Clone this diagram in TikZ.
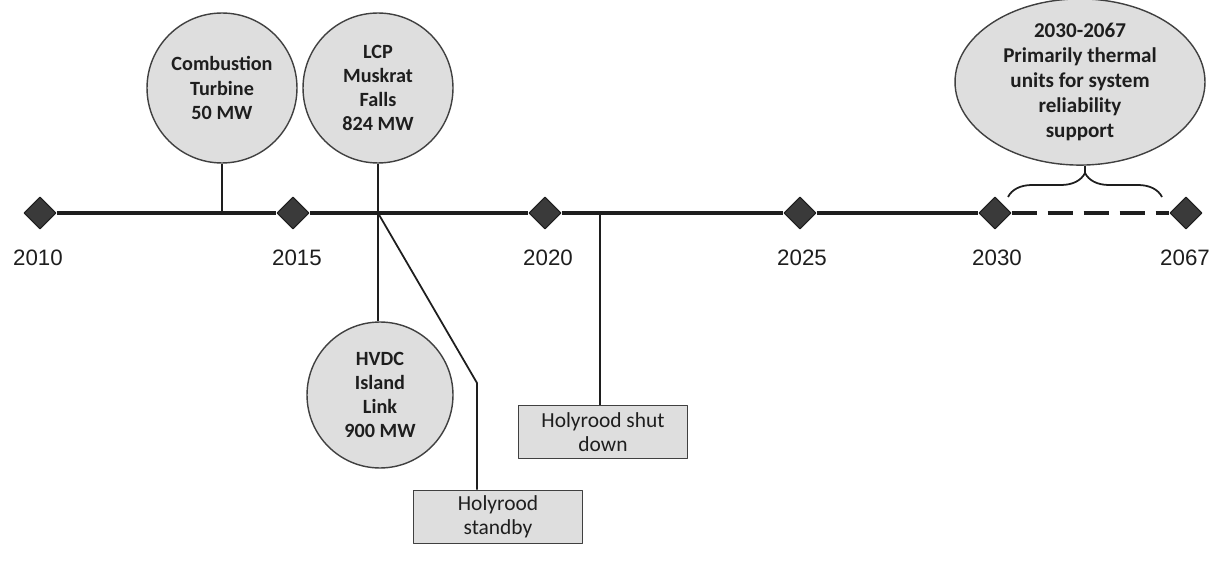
\documentclass[tikz,border=0pt]{standalone}
\usepackage{fontspec}
\setmainfont{Carlito}
\newfontfamily\yearfont{Liberation Sans}
\usepackage{tikz}
\usetikzlibrary{arrows.meta,calc,positioning,shapes.geometric,decorations.pathreplacing}
\definecolor{tlink}{HTML}{1E1E1E}
\definecolor{tlfill}{HTML}{DEDEDE}
\definecolor{tlmark}{HTML}{3A3A3A}

\begin{document}
\begin{tikzpicture}[x=0.02cm,y=-0.02cm,line join=round,
  font=\fontsize{11.5}{13.8}\selectfont,text=tlink,
  bubble/.style={circle,draw=tlink!85,fill=tlfill,line width=.8pt,align=center,inner sep=1pt,minimum size=3cm,font=\fontsize{11.5}{13.8}\selectfont\bfseries},
  note/.style={rectangle,draw=tlink!85,fill=tlfill,line width=.8pt,align=center,inner sep=2pt,minimum width=3.38cm,minimum height=1.07cm,font=\fontsize{12.2}{13.8}\selectfont},
  mile/.style={diamond,aspect=1,draw=tlink,fill=tlmark,line width=.6pt,inner sep=0pt,minimum size=.64cm},
  year/.style={font=\yearfont\fontsize{12.7}{15}\selectfont},
  tl/.style={tlink,line width=2pt},
  conn/.style={tlink,line width=1pt}]
\path[use as bounding box] (0,0) rectangle (1226,567);
\fill[white] (0,0) rectangle (1226,567);
\node[mile] (d2010) at (40,213) {};
\node[mile] (d2015) at (293,213) {};
\node[mile] (d2020) at (545,213) {};
\node[mile] (d2025) at (800,213) {};
\node[mile] (d2030) at (995,213) {};
\node[mile] (d2067) at (1186,213) {};
\node[year] (y2010) at (38,258) {2010};
\node[year] (y2015) at (297,258) {2015};
\node[year] (y2020) at (548,258) {2020};
\node[year] (y2025) at (802,258) {2025};
\node[year] (y2030) at (997,258) {2030};
\node[year] (y2067) at (1185,258) {2067};
\node[bubble] (ct) at (222,88) {Combustion\\Turbine\\50 MW};
\node[bubble] (lcp) at (378,88) {LCP\\Muskrat\\Falls\\824 MW};
\node[bubble,minimum size=2.92cm] (hvdc) at (380,395) {HVDC\\Island\\Link\\900 MW};
\node[note] (stby) at (498,517) {Holyrood\\standby};
\node[note] (shut) at (603,432) {Holyrood shut\\down};
\node[ellipse,draw=tlink!85,fill=tlfill,line width=.8pt,align=center,inner sep=0pt,minimum width=5cm,minimum height=3cm,font=\fontsize{12}{14.2}\selectfont\bfseries] (late) at (1080,82) {2030-2067\\Primarily thermal\\units for system\\reliability\\support};
\coordinate (j14) at (222,213);
\coordinate (j16) at (378,213);
\coordinate (kink) at (477,383);
\coordinate (j21) at (600,213);
\coordinate (bl) at (1008,197);
\coordinate (br) at (1162,197);
\coordinate (btip) at (1085,173);
\draw[tl] (d2010) -- (d2015);
\draw[tl] (d2015) -- (d2020);
\draw[tl] (d2020) -- (d2025);
\draw[tl] (d2025) -- (d2030);
\draw[tl,dash pattern=on .5cm off .22cm] (d2030) -- (d2067);
\draw[conn] (ct.south) -- (j14);
\draw[conn] (lcp.south) -- (j16);
\draw[conn] (j16) -- (j16 |- hvdc.north);
\draw[conn] (j16) -- (kink) -- (kink |- stby.north);
\draw[conn] (j21) -- (j21 |- shut.north);
\draw[conn,decorate,decoration={brace,amplitude=.48cm}] (bl) -- (br);
\draw[conn] (btip) -- (btip |- late.south);
\end{tikzpicture}
\end{document}
